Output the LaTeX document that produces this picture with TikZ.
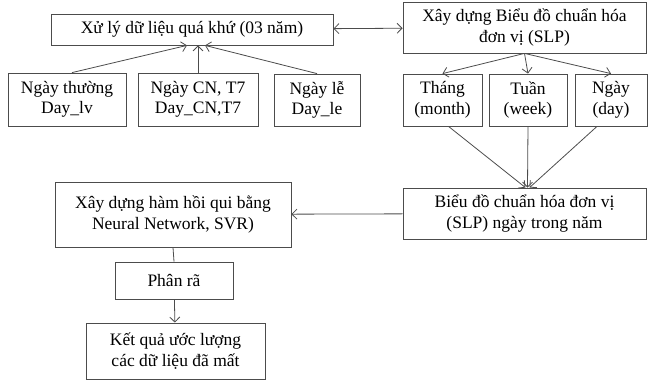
\documentclass[tikz,border=0pt]{standalone}
\usepackage{fontspec}
\setmainfont{Liberation Serif}
\usetikzlibrary{arrows.meta,positioning}

\begin{document}
\begin{tikzpicture}
            [x=1pt,y=-1pt,
             box/.style ={draw=black!70,line width=0.8pt,align=center,inner sep=1pt,
                          font=\fontsize{17.5}{20.5}\selectfont},
             arr/.style ={draw=black!70,line width=0.8pt,-{Straight Barb[length=5pt,width=10pt]}}]
            \useasboundingbox (0,0) rectangle (649,380);
            \node[box,minimum width=282pt,minimum height=31pt] (xuly) at (192,29.5){Xử lý dữ liệu quá khứ (03 năm)};
            \node[box,minimum width=243pt,minimum height=51pt] (slp) at (524.5,27.5){Xây dựng Biểu đồ chuẩn hóa\\đơn vị (SLP)};
            \node[box,minimum width=118pt,minimum height=53pt] (thuong) at (67,99.5){Ngày thường\\Day\_lv};
            \node[box,minimum width=120pt,minimum height=53pt] (cn) at (198,99.5){Ngày CN, T7\\Day\_CN,T7};
            \node[box,minimum width=86pt,minimum height=52pt] (le) at (317,100){Ngày lễ\\Day\_le};
            \node[box,minimum width=79pt,minimum height=52pt] (thang) at (442.5,100){Tháng\\(month)};
            \node[box,minimum width=78pt,minimum height=52pt] (tuan) at (528,100){Tuần\\(week)};
            \node[box,minimum width=72pt,minimum height=52pt] (ngay) at (611,100){Ngày\\(day)};
            \node[box,minimum width=243pt,minimum height=51pt] (nam) at (524.5,213.5){Biểu đồ chuẩn hóa đơn vị\\(SLP) ngày trong năm};
            \node[box,minimum width=236pt,minimum height=65pt] (hoiqui) at (173,214.5){Xây dựng hàm hồi qui bằng\\Neural Network, SVR)};
            \node[box,minimum width=118pt,minimum height=37pt] (phanra) at (174,280.5){Phân rã};
            \node[box,minimum width=179pt,minimum height=56pt] (ketqua) at (175.5,351){Kết quả ước lượng\\các dữ liệu đã mất};
            \draw[arr,{Straight Barb[length=5pt,width=10pt]}-{Straight Barb[length=5pt,width=10pt]}] (xuly) to (slp);
            \draw[arr] ([xshift=5pt]thuong.north) to ([xshift=-5pt]xuly.south);
            \draw[arr] (cn.north) to ([xshift=6pt]xuly.south);
            \draw[arr] (le.north) to ([xshift=13pt]xuly.south);
            \draw[arr] (slp.south) to (thang.north);
            \draw[arr] (slp.south) to (tuan.north);
            \draw[arr] (slp.south) to (ngay.north);
            \draw[arr] ([xshift=6pt]thang.south) to ([xshift=1pt]nam.north);
            \draw[arr] (tuan.south) to ([xshift=3pt]nam.north);
            \draw[arr] ([xshift=-14pt]ngay.south) to ([xshift=5pt]nam.north);
            \draw[arr] (nam) to (hoiqui);
            \draw[draw=black!70,line width=0.8pt] (hoiqui.south) to (phanra.north);
            \draw[arr] (phanra) to (ketqua);
        \end{tikzpicture}
\end{document}
